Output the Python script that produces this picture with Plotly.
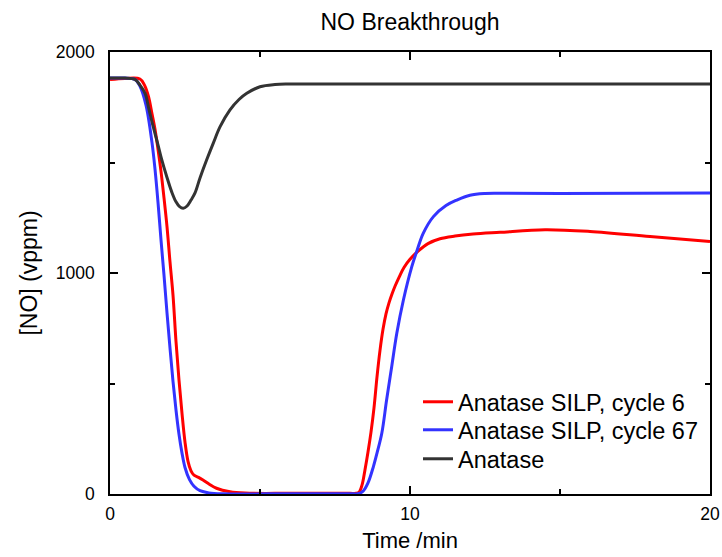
import plotly.graph_objects as go

# Anatase (black)
t_ana = [0, 0.5, 0.83, 1.0, 1.17, 1.3, 1.44, 1.6, 1.72, 1.9, 2.06, 2.2, 2.32, 2.44, 2.56, 2.7, 2.83, 3.0, 3.22, 3.45, 3.67, 4.0, 4.3, 4.56, 5.0, 5.5, 6.0, 8, 12, 16, 20]
y_ana = [1882, 1882, 1876, 1850, 1813, 1740, 1662, 1580, 1515, 1432, 1366, 1322, 1300, 1293, 1302, 1330, 1361, 1430, 1511, 1590, 1662, 1738, 1785, 1813, 1843, 1853, 1855, 1855, 1855, 1855, 1855]

# Anatase SILP, cycle 6 (red)
t_c6 = [0, 0.5, 1.0, 1.15, 1.28, 1.4, 1.5, 1.6, 1.7, 1.8, 1.9, 2.0, 2.1, 2.2, 2.3, 2.4, 2.5, 2.6, 2.7, 2.8, 2.95, 3.1, 3.3, 3.55, 4.0, 4.5, 6, 8.0, 8.2, 8.3, 8.4, 8.5, 8.6, 8.7, 8.8, 8.9, 9.0, 9.1, 9.2, 9.3, 9.4, 9.5, 9.65, 9.8, 10.0, 10.28, 10.6, 11.0, 11.5, 12.1, 13.0, 14.5, 16, 18, 20]
y_c6 = [1875, 1880, 1878, 1850, 1800, 1720, 1650, 1560, 1460, 1340, 1210, 1050, 900, 690, 515, 365, 235, 148, 105, 85, 75, 63, 45, 26, 10, 4, 3, 3, 3, 8, 40, 110, 190, 280, 390, 530, 650, 745, 815, 865, 905, 940, 985, 1025, 1062, 1100, 1133, 1155, 1167, 1176, 1184, 1196, 1188, 1165, 1142]

# Anatase SILP, cycle 67 (blue)
t_c67 = [0, 0.5, 0.83, 1.0, 1.2, 1.4, 1.5, 1.6, 1.7, 1.8, 1.9, 2.0, 2.1, 2.2, 2.3, 2.4, 2.5, 2.65, 2.8, 3.0, 3.3, 3.8, 6, 8.0, 8.3, 8.45, 8.6, 8.78, 8.9, 9.06, 9.22, 9.39, 9.56, 9.78, 10.06, 10.24, 10.44, 10.78, 11.2, 11.56, 12.0, 12.5, 13, 15, 20]
y_c67 = [1882, 1882, 1876, 1845, 1760, 1590, 1470, 1320, 1150, 990, 820, 660, 510, 380, 270, 185, 120, 65, 35, 15, 5, 1, 1, 1, 2, 15, 50, 124, 185, 275, 425, 576, 727, 878, 1029, 1104, 1179, 1255, 1305, 1330, 1352, 1360, 1361, 1360, 1362]

fig = go.Figure()
line_style = dict(width=3, shape="spline", smoothing=1.0)
fig.add_trace(go.Scatter(x=t_c6, y=y_c6, mode="lines", name="Anatase SILP, cycle 6",
                         line=dict(color="#ff0000", **line_style), legend="legend"))
fig.add_trace(go.Scatter(x=t_c67, y=y_c67, mode="lines", name="Anatase SILP, cycle 67",
                         line=dict(color="#3333ff", **line_style), legend="legend2"))
fig.add_trace(go.Scatter(x=t_ana, y=y_ana, mode="lines", name="Anatase",
                         line=dict(color="#333333", **line_style), legend="legend3"))

font = "Liberation Sans, Arial, sans-serif"
axis_common = dict(showline=True, linecolor="black", linewidth=1.5, mirror="ticks",
                   ticks="inside", ticklen=8, tickwidth=1.5, tickcolor="black",
                   showgrid=False, zeroline=False, automargin=False,
                   tickfont=dict(family=font, size=17.5, color="black"))
fig.update_xaxes(range=[0, 20], dtick=10, tick0=0, ticklabelstandoff=3,
                 minor=dict(dtick=5, ticks="inside", ticklen=5, tickwidth=1.5, tickcolor="black"),
                 title=dict(text="Time /min", font=dict(family=font, size=22, color="black"), standoff=10),
                 **axis_common)
fig.update_yaxes(range=[0, 2000], dtick=1000, tick0=0, ticklabelstandoff=10,
                 minor=dict(dtick=500, ticks="inside", ticklen=5, tickwidth=1.5, tickcolor="black"),
                 title=dict(text="[NO] (vppm)", font=dict(family=font, size=23, color="black"), standoff=12),
                 **axis_common)

leg_common = dict(x=(418 - 110) / 600, xanchor="left", yanchor="middle",
                  bgcolor="rgba(0,0,0,0)", font=dict(family=font, size=23.5, color="black"))
fig.update_layout(
    width=722, height=557,
    margin=dict(l=110, r=12, t=52, b=63, autoexpand=False),
    plot_bgcolor="white", paper_bgcolor="white",
    title=dict(text="NO Breakthrough", x=(110 + 710) / 2 / 722, xanchor="center",
               y=1 - 22 / 557, yanchor="middle",
               font=dict(family=font, size=23, color="black")),
    legend=dict(y=(494 - 402) / 442, **leg_common),
    legend2=dict(y=(494 - 430) / 442, **leg_common),
    legend3=dict(y=(494 - 459) / 442, **leg_common),
    showlegend=True,
)

fig.write_html("out.html")
